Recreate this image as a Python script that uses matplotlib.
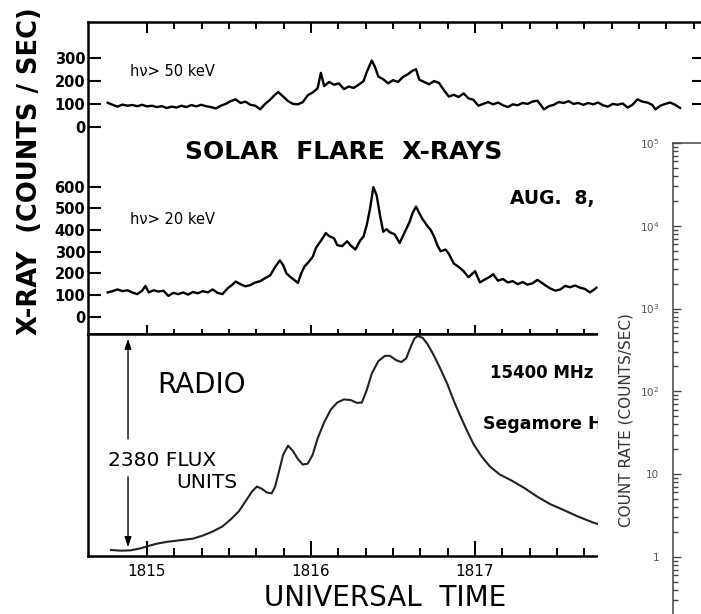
import numpy as np
import matplotlib
matplotlib.use('Agg')
import matplotlib.pyplot as plt
from matplotlib.ticker import FixedLocator, NullFormatter, LogLocator
from matplotlib.patches import Rectangle

# Tempo universal em minutos (1815 = 18h15)
t_50 = [1814.76, 1814.79, 1814.82, 1814.85, 1814.88, 1814.91, 1814.94, 1814.97, 1815.00, 1815.03,
        1815.06, 1815.09, 1815.12, 1815.15, 1815.18, 1815.21, 1815.24, 1815.27, 1815.30, 1815.33,
        1815.36, 1815.39, 1815.42, 1815.45, 1815.48, 1815.51, 1815.54, 1815.57, 1815.60, 1815.63,
        1815.66, 1815.69, 1815.72, 1815.75, 1815.78, 1815.80, 1815.83, 1815.86, 1815.89, 1815.92,
        1815.95, 1815.98, 1816.01, 1816.04, 1816.06, 1816.08, 1816.11, 1816.14, 1816.17, 1816.20,
        1816.23, 1816.26, 1816.29, 1816.32, 1816.34, 1816.37, 1816.39, 1816.41, 1816.44, 1816.47,
        1816.50, 1816.53, 1816.56, 1816.59, 1816.62, 1816.64, 1816.66, 1816.69, 1816.72, 1816.75,
        1816.78, 1816.81, 1816.84, 1816.87, 1816.90, 1816.93, 1816.96, 1816.99, 1817.02, 1817.05,
        1817.08, 1817.11, 1817.14, 1817.17, 1817.20, 1817.23, 1817.26, 1817.29, 1817.32, 1817.35,
        1817.38, 1817.40, 1817.42, 1817.45, 1817.48, 1817.51, 1817.54, 1817.57, 1817.60, 1817.63,
        1817.66, 1817.69, 1817.72, 1817.75, 1817.78, 1817.81, 1817.84, 1817.87, 1817.90, 1817.93,
        1817.96, 1817.99, 1818.02, 1818.05, 1818.08, 1818.10, 1818.13, 1818.16, 1818.19, 1818.22,
        1818.25]
c_50 = [105, 96, 88, 97, 92, 95, 90, 96, 89, 92,
        86, 90, 82, 88, 84, 92, 86, 95, 89, 96,
        90, 86, 80, 92, 100, 112, 120, 104, 110, 96,
        92, 76, 100, 118, 140, 152, 132, 112, 100, 98,
        108, 138, 150, 168, 236, 178, 196, 184, 190, 165,
        176, 170, 184, 200, 240, 290, 262, 220, 208, 190,
        204, 196, 218, 230, 246, 252, 206, 196, 186, 200,
        192, 160, 132, 140, 130, 146, 124, 118, 92, 100,
        108, 98, 106, 94, 86, 98, 94, 104, 100, 110,
        114, 96, 76, 90, 96, 108, 104, 112, 100, 104,
        96, 104, 98, 106, 94, 88, 100, 96, 102, 84,
        96, 120, 110, 106, 96, 76, 92, 100, 106, 96,
        82]

t_20 = [1814.76, 1814.79, 1814.82, 1814.85, 1814.88, 1814.91, 1814.94, 1814.97, 1814.99, 1815.01,
        1815.04, 1815.07, 1815.10, 1815.13, 1815.16, 1815.19, 1815.22, 1815.25, 1815.28, 1815.31,
        1815.34, 1815.37, 1815.40, 1815.43, 1815.46, 1815.49, 1815.52, 1815.54, 1815.57, 1815.60,
        1815.63, 1815.66, 1815.69, 1815.72, 1815.75, 1815.78, 1815.81, 1815.83, 1815.85, 1815.87,
        1815.90, 1815.92, 1815.94, 1815.96, 1815.98, 1816.01, 1816.03, 1816.06, 1816.09, 1816.11,
        1816.14, 1816.16, 1816.19, 1816.22, 1816.24, 1816.27, 1816.30, 1816.32, 1816.34, 1816.36,
        1816.38, 1816.40, 1816.42, 1816.44, 1816.46, 1816.48, 1816.51, 1816.54, 1816.56, 1816.58,
        1816.60, 1816.62, 1816.64, 1816.66, 1816.68, 1816.71, 1816.73, 1816.75, 1816.77, 1816.79,
        1816.82, 1816.84, 1816.87, 1816.90, 1816.93, 1816.96, 1817.00, 1817.03, 1817.06, 1817.09,
        1817.11, 1817.14, 1817.17, 1817.20, 1817.23, 1817.26, 1817.29, 1817.32, 1817.35, 1817.38,
        1817.40, 1817.43, 1817.46, 1817.49, 1817.52, 1817.55, 1817.58, 1817.61, 1817.64, 1817.67,
        1817.70, 1817.72, 1817.74]
c_20 = [112, 118, 126, 118, 122, 112, 104, 120, 142, 112,
        122, 116, 120, 96, 110, 104, 112, 102, 114, 108,
        118, 112, 126, 110, 104, 130, 148, 162, 150, 140,
        146, 158, 164, 178, 190, 228, 260, 238, 200, 186,
        168, 156, 200, 232, 248, 276, 318, 350, 386, 372,
        362, 330, 326, 348, 330, 310, 352, 370, 424, 500,
        598, 560, 470, 392, 404, 390, 380, 340, 372, 404,
        436, 480, 508, 478, 450, 418, 400, 370, 330, 302,
        310, 290, 246, 230, 210, 182, 210, 158, 172, 184,
        196, 166, 174, 158, 164, 150, 160, 148, 154, 170,
        160, 144, 130, 120, 126, 142, 136, 144, 134, 128,
        112, 122, 134]

# Radio 15400 MHz (unidades de fluxo)
t_radio = [1814.78, 1814.84, 1814.90, 1814.96, 1815.00, 1815.06, 1815.12, 1815.20, 1815.28, 1815.34,
           1815.40, 1815.46, 1815.51, 1815.56, 1815.60, 1815.64, 1815.67, 1815.70, 1815.73, 1815.76,
           1815.78, 1815.80, 1815.83, 1815.86, 1815.89, 1815.92, 1815.95, 1815.98, 1816.01, 1816.04,
           1816.08, 1816.12, 1816.16, 1816.20, 1816.24, 1816.28, 1816.31, 1816.34, 1816.37, 1816.41,
           1816.45, 1816.48, 1816.52, 1816.55, 1816.58, 1816.61, 1816.63, 1816.65, 1816.68, 1816.71,
           1816.75, 1816.79, 1816.83, 1816.87, 1816.91, 1816.95, 1816.99, 1817.04, 1817.09, 1817.15,
           1817.22, 1817.30, 1817.38, 1817.46, 1817.54, 1817.62, 1817.72, 1817.80]
flux_radio = [0, -8, -4, 18, 40, 70, 90, 108, 126, 160,
              205, 262, 340, 430, 540, 650, 706, 680, 640, 630,
              700, 840, 1060, 1160, 1100, 1010, 950, 960, 1060, 1240,
              1420, 1560, 1640, 1674, 1668, 1636, 1640, 1780, 1960, 2100,
              2158, 2160, 2110, 2090, 2130, 2270, 2350, 2380, 2360, 2290,
              2160, 2010, 1850, 1660, 1490, 1330, 1180, 1040, 930, 840,
              775, 690, 592, 508, 445, 378, 305, 260]
radio_pico = 2380

ticks_tempo = [1815, 1816, 1817]
rotulos_tempo = ['1815', '1816', '1817']
ticks_50 = [0, 100, 200, 300]
ticks_20 = [0, 100, 200, 300, 400, 500, 600]
rotulos_log = ['1', '10', r'$10^2$', r'$10^3$', r'$10^4$', r'$10^5$']

W, H = 701, 614
T0, T1 = 1814.64, 1818.396


def caixa(x0, y0, x1, y1):
    # retangulo em pixels (origem no canto superior esquerdo) -> fração da figura
    return [x0 / W, 1 - y1 / H, (x1 - x0) / W, (y1 - y0) / H]


def pos(x, y):
    return x / W, 1 - y / H


def ticks_tempo_em(ax):
    ax.xaxis.set_major_locator(FixedLocator(ticks_tempo))
    ax.xaxis.set_minor_locator(FixedLocator(minor_tempo))


plt.rcParams['font.family'] = 'DejaVu Sans'
fig = plt.figure(figsize=(W / 100, H / 100), dpi=100)
minor_tempo = np.arange(1815, 1818.4, 1 / 6)

# moldura do painel de raios-X
ax_frame = fig.add_axes(caixa(88, 22, 704, 334))
ax_frame.set_xlim(T0, T1)
ax_frame.set_xticks([])
ax_frame.set_yticks([])
for s in ax_frame.spines.values():
    s.set_linewidth(1.8)


def painel_xray(box, tempo, contagem, ylim, yticks):
    ax = fig.add_axes(box)
    ax.patch.set_visible(False)
    for s in ax.spines.values():
        s.set_visible(False)
    ax.plot(tempo, contagem, color='black', lw=1.7)
    ax.set_xlim(T0, T1)
    ax.set_ylim(*ylim)
    ax.set_yticks(yticks)
    ax.tick_params(axis='y', direction='in', length=9, width=1.5, pad=2,
                   right=True, labelsize=10.5)
    for lab in ax.get_yticklabels():
        lab.set_fontweight('bold')
    ticks_tempo_em(ax)
    return ax


ax50 = painel_xray(caixa(88, 22, 704, 140), t_50, c_50, (-58.3, 459), ticks_50)
ax50.tick_params(axis='x', which='both', bottom=False, labelbottom=False)
# marcas de tempo penduradas na borda superior (fração do eixo em y)
marca_x = ax50.get_xaxis_transform()
ax50.vlines(ticks_tempo, 1 - 11 / 118, 1, transform=marca_x, color='black', lw=1.4, zorder=10)
ax50.vlines(minor_tempo, 1 - 7 / 118, 1, transform=marca_x, color='black', lw=1.4, zorder=10)

ax20 = painel_xray(caixa(88, 140, 704, 334), t_20, c_20, (-79.8, 815.4), ticks_20)
# ticks da linha que separa os raios-X do radio
ax20.tick_params(axis='x', which='both', direction='in', bottom=True, labelbottom=False, width=1.4)
ax20.tick_params(axis='x', which='major', length=6.5)
ax20.tick_params(axis='x', which='minor', length=3.6)

# painel de radio
ax_radio = fig.add_axes(caixa(88, 334, 704, 556))
ax_radio.plot(t_radio, flux_radio, color='#222222', lw=1.5)
ax_radio.set_xlim(T0, T1)
ax_radio.set_ylim(-67, 2402)
ax_radio.set_yticks([])
for s in ax_radio.spines.values():
    s.set_linewidth(1.8)
ticks_tempo_em(ax_radio)
ax_radio.set_xticklabels(rotulos_tempo)
ax_radio.tick_params(axis='x', which='both', direction='in', width=1.4, labelsize=11, pad=6)
ax_radio.tick_params(axis='x', which='major', length=11)
ax_radio.tick_params(axis='x', which='minor', length=6)

# seta de 2380 unidades de fluxo
x_seta = 1814.884
ax_radio.annotate('', xy=(x_seta, radio_pico), xytext=(x_seta, 1204),
                  arrowprops=dict(arrowstyle='-|>,head_length=0.6,head_width=0.2', color='black', lw=1.0))
ax_radio.annotate('', xy=(x_seta, 0), xytext=(x_seta, 845),
                  arrowprops=dict(arrowstyle='-|>,head_length=0.6,head_width=0.2', color='black', lw=1.0))

# textos
fig.text(*pos(30, 171), 'X-RAY  (COUNTS / SEC)', rotation=90, fontsize=18.5, fontweight='bold',
         ha='center', va='center')
fig.text(*pos(344, 152), 'SOLAR  FLARE  X-RAYS', fontsize=18, fontweight='bold', ha='center', va='center')
fig.text(*pos(510, 199), 'AUG.  8,', fontsize=13.5, fontweight='bold', ha='left', va='center')
fig.text(*pos(130, 71), 'h\u03bd> 50 keV', fontsize=10.5, ha='left', va='center')
fig.text(*pos(130, 220), 'h\u03bd> 20 keV', fontsize=10.5, ha='left', va='center')
fig.text(*pos(201, 385), 'RADIO', fontsize=20, ha='center', va='center')
fig.text(*pos(108, 460), '2380 FLUX', fontsize=14.5, ha='left', va='center')
fig.text(*pos(207, 482), 'UNITS', fontsize=14.5, ha='center', va='center')
fig.text(*pos(490, 373), '15400 MHz', fontsize=12, fontweight='bold', ha='left', va='center')
fig.text(*pos(483, 424), 'Segamore Hill', fontsize=12.5, fontweight='bold', ha='left', va='center')
fig.text(*pos(385, 598), 'UNIVERSAL  TIME', fontsize=20, ha='center', va='center')

# quadro sobreposto com a escala logaritmica
fig.add_artist(Rectangle(pos(598, 614), (W - 598) / W, (614 - 120) / H, transform=fig.transFigure,
                         facecolor='white', edgecolor='none', zorder=5))
ax_log = fig.add_axes(caixa(673, 143, 720, 614), zorder=6)
ax_log.set_yscale('log')
ax_log.set_ylim(10 ** -0.69, 1e5)
ax_log.set_xticks([])
ax_log.spines['right'].set_visible(False)
ax_log.spines['bottom'].set_visible(False)
for s in ('left', 'top'):
    ax_log.spines[s].set_linewidth(1.1)
    ax_log.spines[s].set_color('#444444')
ax_log.yaxis.set_major_locator(FixedLocator([1, 10, 100, 1000, 1e4, 1e5]))
ax_log.set_yticklabels(rotulos_log)
ax_log.yaxis.set_minor_locator(LogLocator(base=10, subs=np.arange(2, 10)))
ax_log.yaxis.set_minor_formatter(NullFormatter())
ax_log.tick_params(axis='y', which='both', direction='in', color='#444444', labelcolor='#555555',
                   labelsize=7.5, width=1.0, pad=10)
ax_log.tick_params(axis='y', which='major', length=6)
ax_log.tick_params(axis='y', which='minor', length=3.5)
fig.text(*pos(626, 420), 'COUNT RATE (COUNTS/SEC)', rotation=90, fontsize=11, color='#333333',
         ha='center', va='center', zorder=7)

fig.savefig('out.png', dpi=100)
